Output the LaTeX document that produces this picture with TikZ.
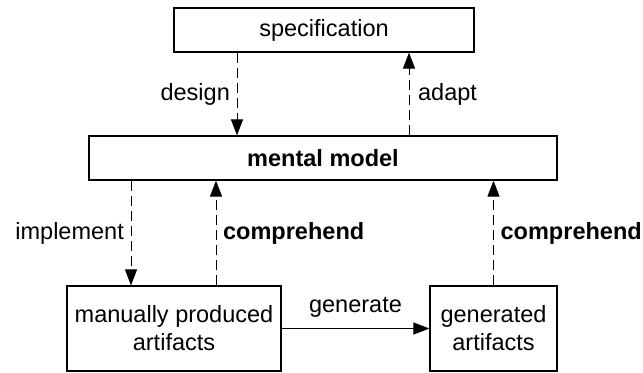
\documentclass[tikz,border=0pt]{standalone}
\usepackage{fontspec}
\setmainfont{Liberation Sans}
\usetikzlibrary{arrows.meta}
\tikzset{
	box/.style={draw, line width=0.6bp, inner sep=0pt, align=center},
	flow/.style={dash pattern=on 5bp off 2.5bp, line width=0.5bp, -{Triangle[length=8bp,width=6bp]}},
	solidflow/.style={line width=0.5bp, -{Triangle[length=8bp,width=6bp]}},
}
\begin{document}
\begin{tikzpicture}[x=0.5bp,y=-0.5bp,font=\fontsize{11.8}{14}\selectfont]
			\useasboundingbox (0,0) rectangle (643,372);
			\node [box, minimum width=150bp, minimum height=22bp] (spec) at (324,30) {specification};
			\node [box, minimum width=234bp, minimum height=22bp] (mental) at (323,158) {\bfseries mental model};
			\node [box, minimum width=107bp, minimum height=42.5bp] (manual) at (174,328.5) {manually produced\\artifacts};
			\node [box, minimum width=63.5bp, minimum height=42.5bp] (gen) at (493.5,328.5) {generated\\artifacts};
			\draw [flow] (spec.south -| 237,0) -- node [left] {design} (mental.north -| 237,0);
			\draw [flow] (mental.north -| 409,0) -- node [right, xshift=1bp] {adapt} (spec.south -| 409,0);
			\draw [flow] (mental.south -| 131,0) -- node [left] {implement} (manual.north -| 131,0);
			\draw [flow] (manual.north -| 216,0) -- node [right] {\bfseries comprehend} (mental.south -| 216,0);
			\draw [flow] (gen.north) -- node [right] {\bfseries comprehend} (mental.south -| gen.north);
			\draw [solidflow] (manual.east) -- node [above, yshift=2bp] {generate} (gen.west);
		\end{tikzpicture}
\end{document}
